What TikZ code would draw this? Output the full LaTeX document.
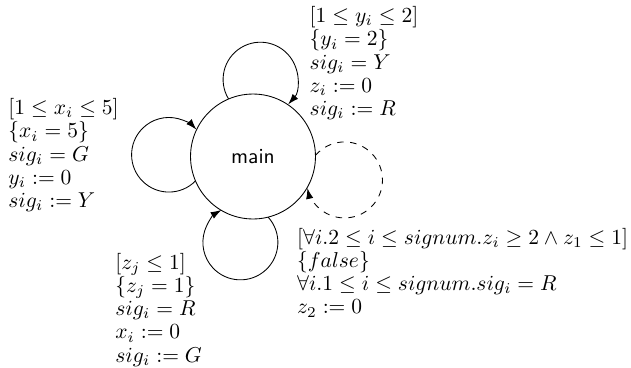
\documentclass[tikz,border=0pt]{standalone}
\usetikzlibrary{arrows.meta}
\begin{document}
\begin{tikzpicture}[x=0.465pt,y=0.465pt,
  state/.style={circle,draw,thin,minimum size=58.1pt,inner sep=0pt,outer sep=0pt,font=\sffamily\fontsize{10}{12}\selectfont},
  loopline/.style={draw,thin,-{Latex[length=5pt,width=3.4pt]}},
  lbl/.style={anchor=north west,align=left,inner sep=0pt,font=\fontsize{10}{10.8}\selectfont}]
\useasboundingbox (0,0) rectangle (631,367);
\node[state] (main) at (253,210.5) {main};
\draw[loopline] (main.203.2) arc[start angle=-44.5,end angle=-317.5,radius=37.3];
\draw[loopline] (main.113.4) arc[start angle=211.5,end angle=-41.9,radius=37.3];
\draw[loopline,dashed] (main.1.7) arc[start angle=139.8,end angle=-167.6,radius=38];
\draw[loopline] (main.-76.6) arc[start angle=42.3,end angle=-239.7,radius=37.5];
\node[lbl] (lblT) at (309.3,361) {$[1 \leq y_i \leq 2]$\\ $\{y_i = 2\}$\\ $sig_i = Y$\\ $z_i := 0$\\ $sig_i := R$};
\node[lbl] (lblL) at (8,269) {$[1 \leq x_i \leq 5]$\\ $\{x_i = 5\}$\\ $sig_i = G$\\ $y_i := 0$\\ $sig_i := Y$};
\node[lbl] (lblB) at (115,114.3) {$[z_j \leq 1]$\\ $\{z_j = 1\}$\\ $sig_i = R$\\ $x_i := 0$\\ $sig_i := G$};
\node[lbl] (lblR) at (296.7,139.3) {$[\forall i.2 \leq i \leq signum.z_i \geq 2 \wedge z_1 \leq 1]$\\ $\{false\}$\\ $\forall i.1 \leq i \leq signum.sig_i = R$\\ $z_2 := 0$};
\end{tikzpicture}
\end{document}
